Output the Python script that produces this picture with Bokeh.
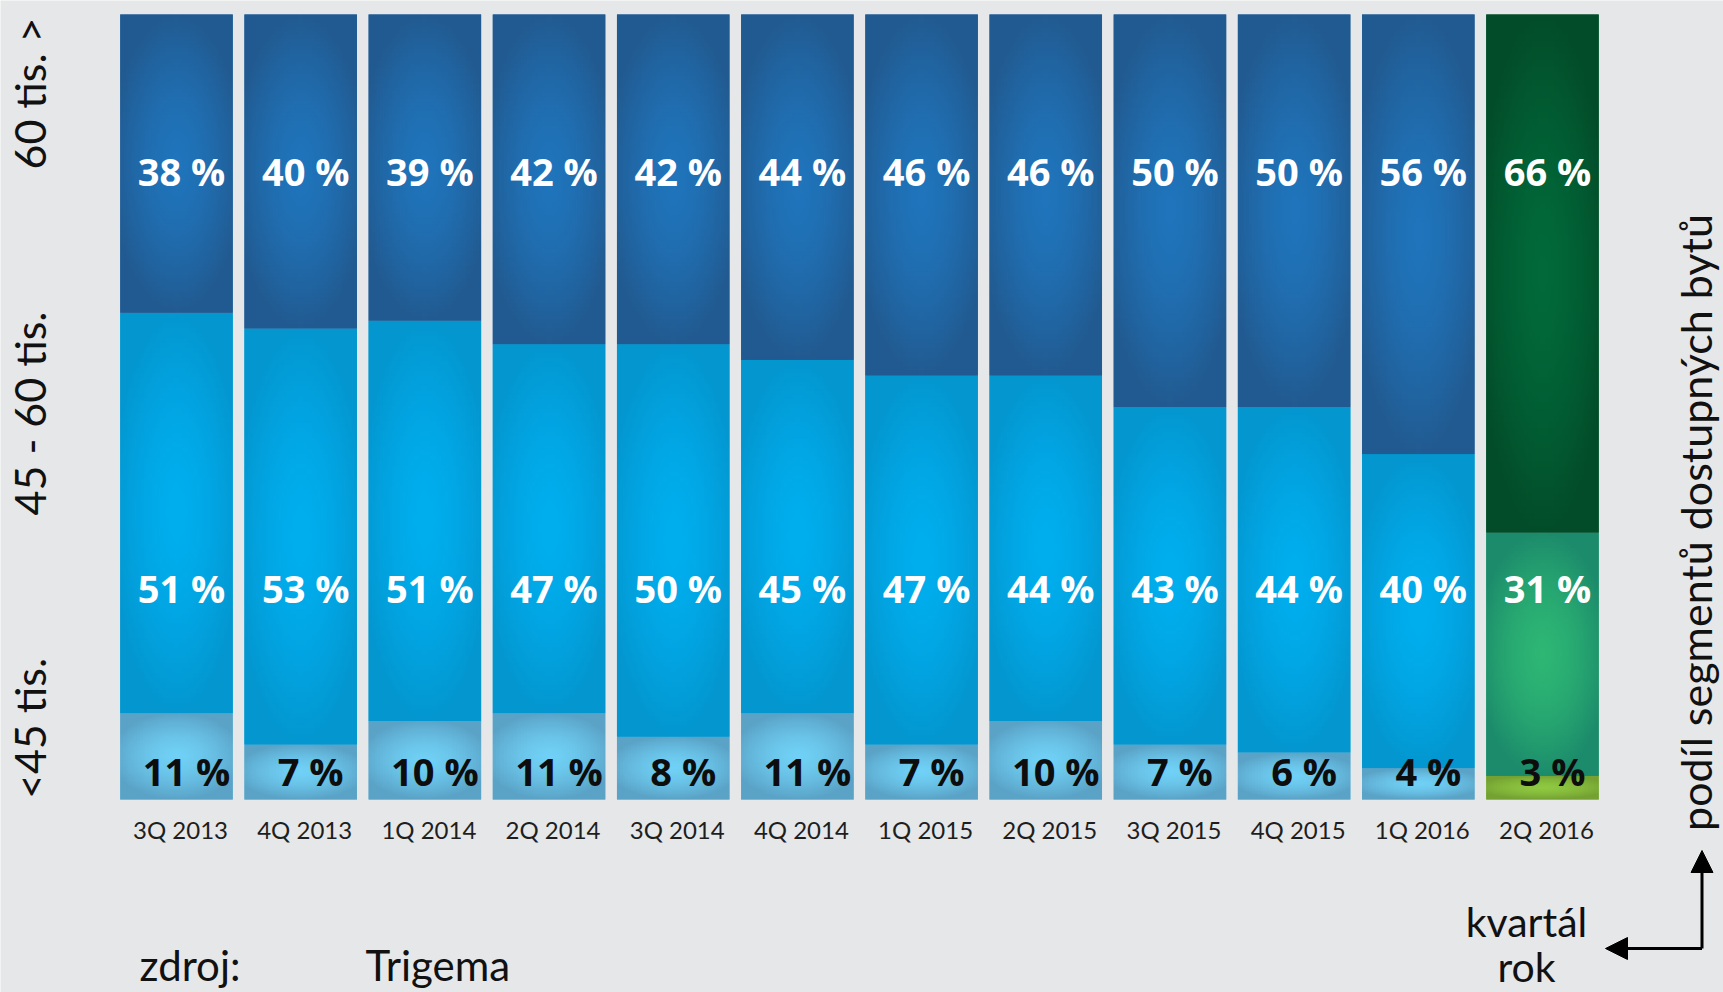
import numpy as np
from bokeh.plotting import figure
from bokeh.models import ColumnDataSource, Range1d, Label, Arrow, NormalHead
from bokeh.core.properties import value
from bokeh.embed import file_html
from bokeh.resources import INLINE

# ---------------- data ----------------
quarters = ["3Q 2013", "4Q 2013", "1Q 2014", "2Q 2014", "3Q 2014", "4Q 2014",
            "1Q 2015", "2Q 2015", "3Q 2015", "4Q 2015", "1Q 2016", "2Q 2016"]
share_low = [11, 7, 10, 11, 8, 11, 7, 10, 7, 6, 4, 3]          # <45 tis.
share_mid = [51, 53, 51, 47, 50, 45, 47, 44, 43, 44, 40, 31]   # 45 - 60 tis.
share_high = [38, 40, 39, 42, 42, 44, 46, 46, 50, 50, 56, 66]  # 60 tis. >
segment_names = ["<45 tis.", "45 - 60 tis.", "60 tis. >"]
highlighted = "2Q 2016"
axis_title = "podíl segmentů dostupných bytů"
x_title = ["kvartál", "rok"]
source_label = ["zdroj:", "Trigema"]

# ---------------- styles ----------------
BG = "#e6e7e8"
# (flat, gradient centre, gradient edge)
BLUE = {"low": ("#63b6dc", "#70d0f5", "#5aa3c7"),
        "mid": ("#02a2dd", "#00aeee", "#0396cf"),
        "high": ("#2066a6", "#1f74bb", "#215a90")}
GREEN = {"low": ("#80b538", "#8fc841", "#74a132"),
         "mid": ("#25a170", "#2db674", "#1c8b6b"),
         "high": ("#025a31", "#01693a", "#024c29")}
VAL_FONT = "Open Sans"
TXT_FONT = "Lato"
INK = "#111111"

W, H = 1723, 992
# pixel <-> data mapping of the drawing area (layout only)
X0PX, XPX = 176.0, 124.18     # px of first bar centre, px per category
Y0PX, YPX = 799.0, 7.85       # px of 0 %, px per percent
def X(px): return (px - X0PX) / XPX
def Y(py): return (Y0PX - py) / YPX
BASE_SHIFT = 0.39             # em, renderer places alphabetic baseline this much lower
def yb(py, size): return Y(py - BASE_SHIFT * size)

n = len(quarters)
xs = np.arange(n)
low = np.array(share_low, dtype=float)
mid = np.array(share_mid, dtype=float)
high = np.array(share_high, dtype=float)
is_hl = [q == highlighted for q in quarters]

def pal(key, k):
    return [GREEN[key][k] if h else BLUE[key][k] for h in is_hl]

src = ColumnDataSource(dict(
    x=xs, quarter=quarters,
    b0=np.zeros(n), t0=low,
    b1=low, t1=low + mid,
    b2=low + mid, t2=low + mid + high,
    c0=pal("low", 0), c1=pal("mid", 0), c2=pal("high", 0),
    lab_low=[f"{v} %" for v in share_low],
    lab_mid=[f"{v} %" for v in share_mid],
    lab_high=[f"{v} %" for v in share_high],
))

p = figure(width=W, height=H, title=None,
           x_range=Range1d(X(0), X(W)), y_range=Range1d(Y(H), Y(0)),
           output_backend="svg", toolbar_location=None,
           x_axis_location=None, y_axis_location=None,
           min_border=0, min_border_left=0, min_border_right=0,
           min_border_top=0, min_border_bottom=0,
           background_fill_color=BG, border_fill_color=BG,
           outline_line_color=None)
p.grid.visible = False

BW = 112.5 / XPX
for i in range(3):
    p.vbar(x="x", width=BW, bottom=f"b{i}", top=f"t{i}", source=src,
           fill_color=f"c{i}", line_color=None)

# radial shading of every segment
def hex2rgb(h):
    h = h.lstrip("#")
    return np.array([int(h[j:j + 2], 16) for j in (0, 2, 4)], dtype=float)

def shade(c_hex, e_hex, nx=40, ny=80):
    c, e = hex2rgb(c_hex), hex2rgb(e_hex)
    u = (np.arange(nx) + 0.5) / nx * 2 - 1
    v = (np.arange(ny) + 0.5) / ny * 2 - 1
    U, V = np.meshgrid(u, v)
    t = np.clip(np.sqrt((U * 0.85) ** 2 + V ** 2), 0, 1) ** 1.6
    rgb = c[None, None, :] * (1 - t[..., None]) + e[None, None, :] * t[..., None]
    img = np.empty((ny, nx, 4), dtype=np.uint8)
    img[..., :3] = np.round(rgb).astype(np.uint8)
    img[..., 3] = 255
    return img.view(np.uint32).reshape(ny, nx)

imgs, ix, iy, idw, idh = [], [], [], [], []
bounds = [(src.data["b0"], src.data["t0"], "low"),
          (src.data["b1"], src.data["t1"], "mid"),
          (src.data["b2"], src.data["t2"], "high")]
for bot, top, key in bounds:
    for j in range(n):
        cols = GREEN[key] if is_hl[j] else BLUE[key]
        imgs.append(shade(cols[1], cols[2]))
        ix.append(xs[j] - BW / 2)
        iy.append(bot[j])
        idw.append(BW)
        idh.append(top[j] - bot[j])
p.image_rgba(image=imgs, x=ix, y=iy, dw=idw, dh=idh)

# value labels
VS = 38
for col, ybase, color, xoff in [("lab_high", 78.2, "white", 5),
                                ("lab_mid", 25.0, "white", 5),
                                ("lab_low", 1.75, "#0d0d0d", 10)]:
    p.text(x="x", y=ybase + BASE_SHIFT * VS / YPX, text=col, source=src, x_offset=xoff,
           text_align="center", text_baseline="alphabetic",
           text_font=value(VAL_FONT), text_font_style="bold",
           text_font_size=f"{VS}px", text_color=color)

# category labels
TS = 24
p.text(x="x", y=yb(838, TS), text="quarter", source=src, x_offset=4,
       text_align="center", text_baseline="alphabetic",
       text_font=value(TXT_FONT), text_font_size=f"{TS}px", text_color="#1e1e1e")

# left segment names (rotated)
LS = 43
for name, cy in zip(segment_names, [728, 413, 93]):
    p.add_layout(Label(x=X(46 - BASE_SHIFT * LS), y=Y(cy), text=name, angle=np.pi / 2,
                       text_align="center", text_baseline="alphabetic",
                       text_font=TXT_FONT, text_font_size=f"{LS}px", text_color=INK))

# right axis title (rotated)
RS = 43
p.add_layout(Label(x=X(1712 - BASE_SHIFT * RS), y=Y(522), text=axis_title,
                   angle=np.pi / 2, text_align="center", text_baseline="alphabetic",
                   text_font=TXT_FONT, text_font_size=f"{RS}px", text_color=INK))

# kvartál / rok
KS = 41
p.add_layout(Label(x=X(1526), y=yb(937, KS), text=x_title[0], text_align="center",
                   text_baseline="alphabetic", text_font=TXT_FONT,
                   text_font_size=f"{KS}px", text_color=INK))
p.add_layout(Label(x=X(1526), y=yb(982, KS), text=x_title[1], text_align="center",
                   text_baseline="alphabetic", text_font=TXT_FONT,
                   text_font_size=f"{KS}px", text_color=INK))

# source
SS = 42
p.add_layout(Label(x=X(139), y=yb(981, SS), text=source_label[0], text_align="left",
                   text_baseline="alphabetic", text_font=TXT_FONT,
                   text_font_size=f"{SS}px", text_color=INK))
p.add_layout(Label(x=X(365), y=yb(981, SS), text=source_label[1], text_align="left",
                   text_baseline="alphabetic", text_font=TXT_FONT,
                   text_font_size=f"{SS}px", text_color=INK))

# corner arrows
for xe, ye in [(X(1701.5), Y(850)), (X(1605), Y(948))]:
    p.add_layout(Arrow(end=NormalHead(size=22, fill_color="black", line_color="black"),
                       x_start=X(1701.5), y_start=Y(948), x_end=xe, y_end=ye,
                       line_width=3, line_color="black"))

open("out.html", "w").write(file_html(p, INLINE))
